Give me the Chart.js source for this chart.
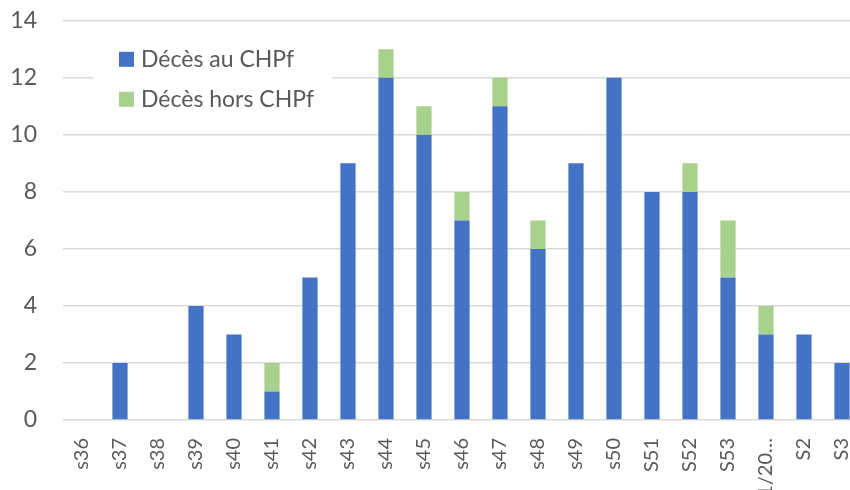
<!DOCTYPE html>
<html>
<head>
<meta charset="utf-8">
<script src="https://cdn.jsdelivr.net/npm/chart.js@4/dist/chart.umd.min.js"></script>
<style>
html, body { margin: 0; padding: 0; background: #fff; overflow: hidden; }
#wrap { width: 884px; height: 509px; margin-top: -19px; }
</style>
</head>
<body>
<div id="wrap"><canvas id="chart"></canvas></div>
<script>
/** Week labels on the x axis. */
var WEEKS = ['s36', 's37', 's38', 's39', 's40', 's41', 's42', 's43', 's44', 's45', 's46',
    's47', 's48', 's49', 's50', 'S51', 'S52', 'S53', 'S1/20…', 'S2', 'S3'];

/** Deaths at the CHPf, per week. */
var DECES_CHPF = [0, 2, 0, 4, 3, 1, 5, 9, 12, 10, 7, 11, 6, 9, 12, 8, 8, 5, 3, 3, 2];

/** Deaths outside the CHPf, per week. */
var DECES_HORS = [0, 0, 0, 0, 0, 1, 0, 0, 1, 1, 1, 1, 1, 0, 0, 0, 1, 2, 1, 0, 0];

var SERIES_NAMES = ['Décès au CHPf', 'Décès hors CHPf'];
var COLORS = ['#4472C4', '#A9D18E'];
var FONT = 'Lato, "Liberation Sans", sans-serif';
var TEXT_COLOR = '#595959';

/**
 * Legend drawn inside the plot, on a white box that hides the grid lines.
 */
var insideLegend = {
    id: 'insideLegend',
    afterDatasetsDraw: function (chart) {
        var ctx = chart.ctx;
        var left = chart.chartArea.left;
        var top = chart.chartArea.top;
        ctx.save();
        ctx.fillStyle = '#fff';
        ctx.fillRect(left + 30, top + 12, 239, 88);
        ctx.font = '23px ' + FONT;
        ctx.textBaseline = 'middle';
        for (var i = 0; i < SERIES_NAMES.length; i++) {
            var y = top + 38 + i * 40;
            ctx.fillStyle = COLORS[i];
            ctx.fillRect(left + 56, y - 7, 15, 15);
            ctx.fillStyle = TEXT_COLOR;
            ctx.fillText(SERIES_NAMES[i], left + 78, y + 1);
        }
        ctx.restore();
    }
};

function createChart() {
    var ctx = document.getElementById('chart').getContext('2d');
    return new Chart(ctx, {
        type: 'bar',
        data: {
            labels: WEEKS,
            datasets: [{
                label: SERIES_NAMES[0],
                data: DECES_CHPF,
                backgroundColor: COLORS[0]
            }, {
                label: SERIES_NAMES[1],
                data: DECES_HORS,
                backgroundColor: COLORS[1]
            }]
        },
        options: {
            responsive: true,
            maintainAspectRatio: false,
            animation: false,
            datasets: {
                bar: { categoryPercentage: 1, barPercentage: 0.4 }
            },
            layout: { padding: { top: 2, right: 0, left: 0, bottom: 0 } },
            plugins: {
                legend: { display: false },
                tooltip: { enabled: false }
            },
            scales: {
                x: {
                    stacked: true,
                    grid: { display: false, drawTicks: false },
                    border: { display: false },
                    ticks: {
                        color: TEXT_COLOR,
                        font: { family: FONT, size: 20 },
                        minRotation: 90,
                        maxRotation: 90,
                        autoSkip: false,
                        padding: 18
                    },
                    afterFit: function (scale) { scale.height = 70; }
                },
                y: {
                    stacked: true,
                    min: 0,
                    max: 14,
                    grid: { color: '#D9D9D9', lineWidth: 1.5, drawTicks: false },
                    border: { display: false },
                    ticks: {
                        stepSize: 2,
                        color: TEXT_COLOR,
                        font: { family: FONT, size: 23 },
                        padding: 26
                    },
                    afterFit: function (scale) { scale.width = 63; }
                }
            }
        },
        plugins: [insideLegend]
    });
}

createChart();
</script>
</body>
</html>
